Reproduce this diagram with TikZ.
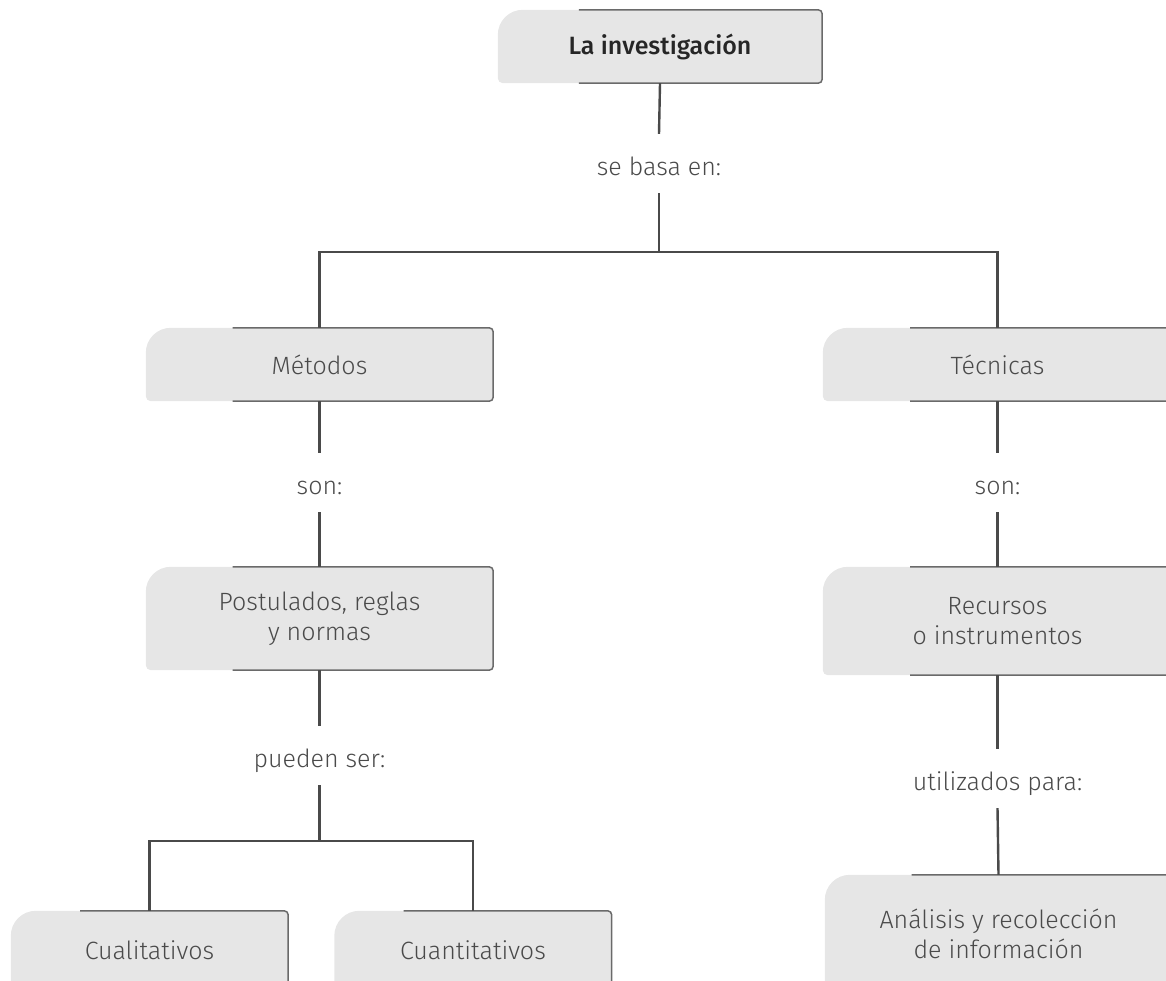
\documentclass[tikz,border=0pt]{standalone}
\usepackage{fontspec}
\setmainfont{Fira Sans Light}[BoldFont=Fira Sans Medium]
\usetikzlibrary{calc}
\pgfdeclarelayer{bg}
\pgfsetlayers{bg,main}
\definecolor{boxfill}{HTML}{E6E6E6}
\definecolor{edgec}{HTML}{6A6A6A}
\definecolor{linec}{HTML}{4A4A4A}
\definecolor{txtc}{HTML}{4A4A4A}
\definecolor{titlec}{HTML}{262626}
\newcommand{\cboxbg}[1]{%
\begin{pgfonlayer}{bg}
\fill[boxfill] ([xshift=25pt]#1.north west) -- ([xshift=-4pt]#1.north east)
  arc[start angle=90,end angle=0,radius=4pt] -- ([yshift=4pt]#1.south east)
  arc[start angle=0,end angle=-90,radius=4pt] -- ([xshift=5pt]#1.south west)
  arc[start angle=270,end angle=180,radius=5pt] -- ([yshift=-25pt]#1.north west)
  arc[start angle=180,end angle=90,radius=25pt] -- cycle;
\draw[edgec, line width=1.5pt] ($(#1.north west)!0.25!(#1.north east)$) -- ([xshift=-4pt]#1.north east)
  arc[start angle=90,end angle=0,radius=4pt] -- ([yshift=4pt]#1.south east)
  arc[start angle=0,end angle=-90,radius=4pt] -- ($(#1.south west)!0.25!(#1.south east)$);
\end{pgfonlayer}}
\begin{document}
\begin{tikzpicture}[x=1pt,y=1pt,
  cbox/.style={inner sep=0pt, align=center, text=txtc, font=\fontsize{25}{30}\selectfont},
  lbl/.style={inner sep=0pt, anchor=base, text height=41pt, text depth=18pt, text=txtc, font=\fontsize{25}{30}\selectfont},
  conn/.style={draw=linec, line width=2.4pt}]
\useasboundingbox (0,0) rectangle (1166,-980);
% boxes
\node[cbox, minimum width=324pt, minimum height=73pt, text=titlec, font=\fontsize{25}{30}\selectfont\bfseries] (inv) at (660,-46.5) {La investigación};
\node[cbox, minimum width=347pt, minimum height=73pt] (met) at (319.5,-364.5) {Métodos};
\node[cbox, minimum width=349pt, minimum height=73pt] (tec) at (997.5,-364.5) {Técnicas};
\node[cbox, minimum width=347pt, minimum height=103pt] (post) at (319.5,-618.5) {Postulados, reglas\\y normas};
\node[cbox, minimum width=349pt, minimum height=108pt] (rec) at (997.5,-621) {Recursos\\o instrumentos};
\node[cbox, minimum width=347pt, minimum height=118pt] (ana) at (998.5,-934) {Análisis y recolección\\de información};
\node[cbox, minimum width=277pt, minimum height=78pt] (cual) at (149.5,-950) {Cualitativos};
\node[cbox, minimum width=277pt, minimum height=78pt] (cuan) at (473,-950) {Cuantitativos};
% labels
\node[lbl] (l1) at (659,-175) {se basa en:};
\node[lbl] (l2) at (319.5,-494) {son:};
\node[lbl] (l3) at (319.5,-767) {pueden ser:};
\node[lbl] (l4) at (997.5,-494) {son:};
\node[lbl] (l5) at (997.5,-790) {utilizados para:};
\coordinate (j1) at (659,-252);
\coordinate (j2) at (319.5,-841);
% connectors
\draw[conn] (inv.south) -- (l1.north);
\draw[conn] (l1.south) -- (j1);
\draw[conn] (met.north) |- (j1) -| (tec.north);
\draw[conn] (met.south) -- (l2.north);
\draw[conn] (l2.south) -- (post.north);
\draw[conn] (post.south) -- (l3.north);
\draw[conn] (l3.south) -- (j2);
\draw[conn] (cual.north) |- (j2) -| (cuan.north);
\draw[conn] (tec.south) -- (l4.north);
\draw[conn] (l4.south) -- (rec.north);
\draw[conn] (rec.south) -- (l5.north);
\draw[conn] (l5.south) -- (ana.north);
% box backgrounds
\cboxbg{inv}
\cboxbg{met}
\cboxbg{tec}
\cboxbg{post}
\cboxbg{rec}
\cboxbg{ana}
\cboxbg{cual}
\cboxbg{cuan}
\end{tikzpicture}
\end{document}
